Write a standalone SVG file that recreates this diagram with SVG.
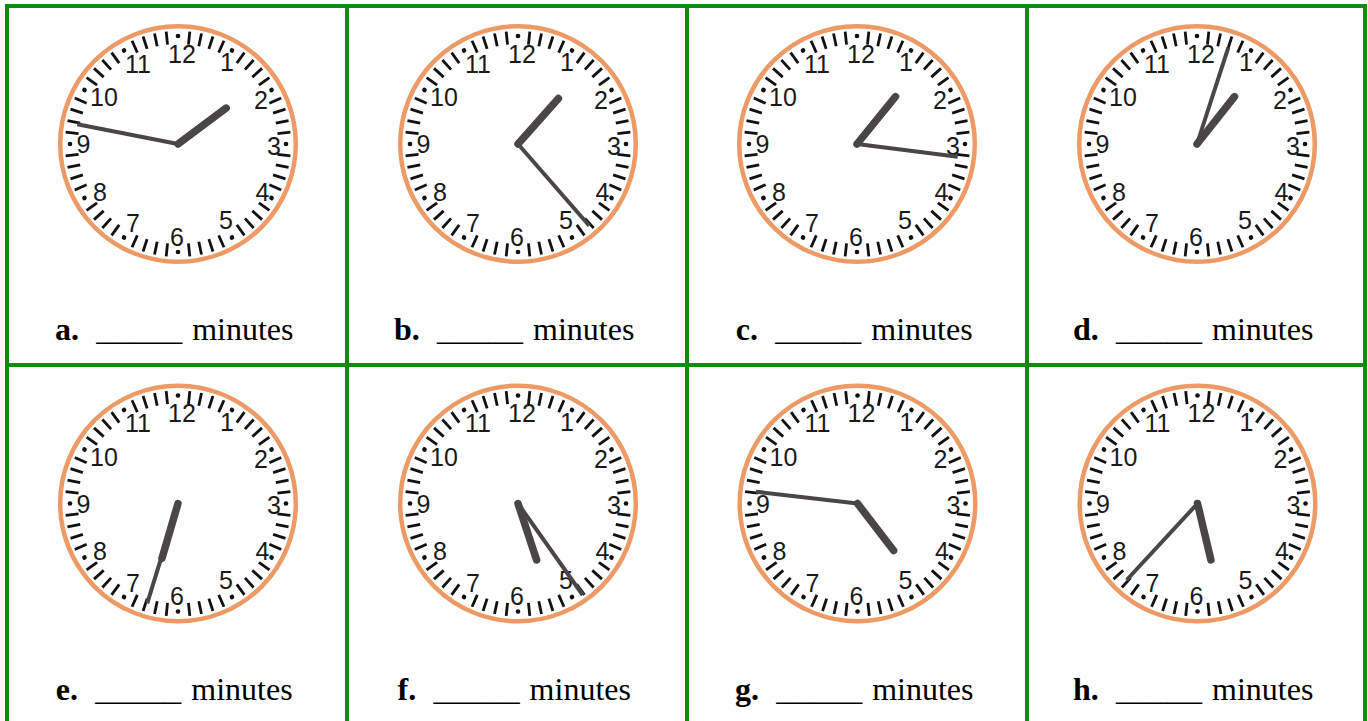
<svg xmlns="http://www.w3.org/2000/svg" xmlns:xlink="http://www.w3.org/1999/xlink" width="1368" height="721" viewBox="0 0 1368 721">
<style>
.num{font-family:"Liberation Sans",Arial,sans-serif;font-size:25px;fill:#1a1a1a;text-anchor:middle}
.lbl{font-family:"Liberation Serif","Times New Roman",serif;font-size:32px;fill:#000}
.b{font-weight:bold}
.tick{stroke:#111;stroke-width:2.8}
.hr{stroke:#4a4646;stroke-width:7.5;stroke-linecap:round}
.mn{stroke:#4a4646;stroke-width:4;stroke-linecap:butt}
.grid{stroke:#128a12;stroke-width:4;fill:none}
</style>
<defs>
<g id="face">
<circle r="117.8" fill="#fff" stroke="#ED9A66" stroke-width="4.5"/>
<g class="tick">
<line y1="-100" y2="-113" transform="rotate(6)"/><line y1="-100" y2="-113" transform="rotate(12)"/><line y1="-100" y2="-113" transform="rotate(18)"/><line y1="-100" y2="-113" transform="rotate(24)"/>
<line y1="-100" y2="-113" transform="rotate(36)"/><line y1="-100" y2="-113" transform="rotate(42)"/><line y1="-100" y2="-113" transform="rotate(48)"/><line y1="-100" y2="-113" transform="rotate(54)"/>
<line y1="-100" y2="-113" transform="rotate(66)"/><line y1="-100" y2="-113" transform="rotate(72)"/><line y1="-100" y2="-113" transform="rotate(78)"/><line y1="-100" y2="-113" transform="rotate(84)"/>
<line y1="-100" y2="-113" transform="rotate(96)"/><line y1="-100" y2="-113" transform="rotate(102)"/><line y1="-100" y2="-113" transform="rotate(108)"/><line y1="-100" y2="-113" transform="rotate(114)"/>
<line y1="-100" y2="-113" transform="rotate(126)"/><line y1="-100" y2="-113" transform="rotate(132)"/><line y1="-100" y2="-113" transform="rotate(138)"/><line y1="-100" y2="-113" transform="rotate(144)"/>
<line y1="-100" y2="-113" transform="rotate(156)"/><line y1="-100" y2="-113" transform="rotate(162)"/><line y1="-100" y2="-113" transform="rotate(168)"/><line y1="-100" y2="-113" transform="rotate(174)"/>
<line y1="-100" y2="-113" transform="rotate(186)"/><line y1="-100" y2="-113" transform="rotate(192)"/><line y1="-100" y2="-113" transform="rotate(198)"/><line y1="-100" y2="-113" transform="rotate(204)"/>
<line y1="-100" y2="-113" transform="rotate(216)"/><line y1="-100" y2="-113" transform="rotate(222)"/><line y1="-100" y2="-113" transform="rotate(228)"/><line y1="-100" y2="-113" transform="rotate(234)"/>
<line y1="-100" y2="-113" transform="rotate(246)"/><line y1="-100" y2="-113" transform="rotate(252)"/><line y1="-100" y2="-113" transform="rotate(258)"/><line y1="-100" y2="-113" transform="rotate(264)"/>
<line y1="-100" y2="-113" transform="rotate(276)"/><line y1="-100" y2="-113" transform="rotate(282)"/><line y1="-100" y2="-113" transform="rotate(288)"/><line y1="-100" y2="-113" transform="rotate(294)"/>
<line y1="-100" y2="-113" transform="rotate(306)"/><line y1="-100" y2="-113" transform="rotate(312)"/><line y1="-100" y2="-113" transform="rotate(318)"/><line y1="-100" y2="-113" transform="rotate(324)"/>
<line y1="-100" y2="-113" transform="rotate(336)"/><line y1="-100" y2="-113" transform="rotate(342)"/><line y1="-100" y2="-113" transform="rotate(348)"/><line y1="-100" y2="-113" transform="rotate(354)"/>
</g>
<g fill="#111">
<circle cy="-108" r="2.3"/><circle cy="-108" r="2.3" transform="rotate(30)"/><circle cy="-108" r="2.3" transform="rotate(60)"/><circle cy="-108" r="2.3" transform="rotate(90)"/>
<circle cy="-108" r="2.3" transform="rotate(120)"/><circle cy="-108" r="2.3" transform="rotate(150)"/><circle cy="-108" r="2.3" transform="rotate(180)"/><circle cy="-108" r="2.3" transform="rotate(210)"/>
<circle cy="-108" r="2.3" transform="rotate(240)"/><circle cy="-108" r="2.3" transform="rotate(270)"/><circle cy="-108" r="2.3" transform="rotate(300)"/><circle cy="-108" r="2.3" transform="rotate(330)"/>
</g>
</g>
</defs>
<rect width="1368" height="721" fill="#fff"/>
<g id="grid">
<rect class="grid" x="7" y="6" width="1358" height="720"/>
<line class="grid" x1="347" y1="6" x2="347" y2="721"/>
<line class="grid" x1="687" y1="6" x2="687" y2="721"/>
<line class="grid" x1="1027" y1="6" x2="1027" y2="721"/>
<line class="grid" x1="7" y1="365" x2="1365" y2="365"/>
</g>
<g id="connectors"/>

<g id="cell-a">
<g transform="translate(178,144)">
<use xlink:href="#face"/>
<g class="num"><text x="4" y="-81.5">12</text><text x="49" y="-73">1</text><text x="83" y="-35.5">2</text><text x="96" y="10.5">3</text><text x="84.5" y="56.5">4</text><text x="48" y="85">5</text><text x="-1" y="101.5">6</text><text x="-45" y="88">7</text><text x="-78" y="56.5">8</text><text x="-94.5" y="9">9</text><text x="-74" y="-38">10</text><text x="-40" y="-71.5">11</text></g>
<line class="mn" x1="0" y1="0" x2="-100.7" y2="-19.7"/>
<line class="hr" x1="0" y1="0" x2="48.2" y2="-35.9"/>
</g>
<text class="lbl" y="340"><tspan class="b" x="54.9">a.</tspan><tspan x="96.2" textLength="86" lengthAdjust="spacingAndGlyphs">_____</tspan><tspan x="192.2">minutes</tspan></text>
</g>

<g id="cell-b">
<g transform="translate(518,144)">
<use xlink:href="#face"/>
<g class="num"><text x="4" y="-81.5">12</text><text x="49" y="-73">1</text><text x="83" y="-35.5">2</text><text x="96" y="10.5">3</text><text x="84.5" y="56.5">4</text><text x="48" y="85">5</text><text x="-1" y="101.5">6</text><text x="-45" y="88">7</text><text x="-78" y="56.5">8</text><text x="-94.5" y="9">9</text><text x="-74" y="-38">10</text><text x="-40" y="-71.5">11</text></g>
<line class="mn" x1="0" y1="0" x2="71.3" y2="81.7"/>
<line class="hr" x1="0" y1="0" x2="40.4" y2="-45.4"/>
</g>
<text class="lbl" y="340"><tspan class="b" x="394">b.</tspan><tspan x="437" textLength="86" lengthAdjust="spacingAndGlyphs">_____</tspan><tspan x="533">minutes</tspan></text>
</g>

<g id="cell-c">
<g transform="translate(857,144)">
<use xlink:href="#face"/>
<g class="num"><text x="4" y="-81.5">12</text><text x="49" y="-73">1</text><text x="83" y="-35.5">2</text><text x="96" y="10.5">3</text><text x="84.5" y="56.5">4</text><text x="48" y="85">5</text><text x="-1" y="101.5">6</text><text x="-45" y="88">7</text><text x="-78" y="56.5">8</text><text x="-94.5" y="9">9</text><text x="-74" y="-38">10</text><text x="-40" y="-71.5">11</text></g>
<line class="mn" x1="0" y1="0" x2="100.7" y2="12.7"/>
<line class="hr" x1="0" y1="0" x2="38.5" y2="-47.3"/>
</g>
<text class="lbl" y="340"><tspan class="b" x="735.8">c.</tspan><tspan x="775.3" textLength="86" lengthAdjust="spacingAndGlyphs">_____</tspan><tspan x="871.3">minutes</tspan></text>
</g>

<g id="cell-d">
<g transform="translate(1197,144)">
<use xlink:href="#face"/>
<g class="num"><text x="4" y="-81.5">12</text><text x="49" y="-73">1</text><text x="83" y="-35.5">2</text><text x="96" y="10.5">3</text><text x="84.5" y="56.5">4</text><text x="48" y="85">5</text><text x="-1" y="101.5">6</text><text x="-45" y="88">7</text><text x="-78" y="56.5">8</text><text x="-94.5" y="9">9</text><text x="-74" y="-38">10</text><text x="-40" y="-71.5">11</text></g>
<line class="mn" x1="0" y1="0" x2="31.3" y2="-96.3"/>
<line class="hr" x1="0" y1="0" x2="37.5" y2="-47.3"/>
</g>
<text class="lbl" y="340"><tspan class="b" x="1073">d.</tspan><tspan x="1116" textLength="86" lengthAdjust="spacingAndGlyphs">_____</tspan><tspan x="1212">minutes</tspan></text>
</g>

<g id="cell-e">
<g transform="translate(178,503.5)">
<use xlink:href="#face"/>
<g class="num"><text x="4" y="-81.5">12</text><text x="49" y="-73">1</text><text x="83" y="-35.5">2</text><text x="96" y="10.5">3</text><text x="84.5" y="56.5">4</text><text x="48" y="85">5</text><text x="-1" y="101.5">6</text><text x="-45" y="88">7</text><text x="-78" y="56.5">8</text><text x="-94.5" y="9">9</text><text x="-74" y="-38">10</text><text x="-40" y="-71.5">11</text></g>
<line class="mn" x1="0" y1="0" x2="-30.8" y2="99.8"/>
<line class="hr" x1="0" y1="0" x2="-16" y2="54.8"/>
</g>
<text class="lbl" y="699.5"><tspan class="b" x="55.8">e.</tspan><tspan x="95.3" textLength="86" lengthAdjust="spacingAndGlyphs">_____</tspan><tspan x="191.3">minutes</tspan></text>
</g>

<g id="cell-f">
<g transform="translate(518,503.5)">
<use xlink:href="#face"/>
<g class="num"><text x="4" y="-81.5">12</text><text x="49" y="-73">1</text><text x="83" y="-35.5">2</text><text x="96" y="10.5">3</text><text x="84.5" y="56.5">4</text><text x="48" y="85">5</text><text x="-1" y="101.5">6</text><text x="-45" y="88">7</text><text x="-78" y="56.5">8</text><text x="-94.5" y="9">9</text><text x="-74" y="-38">10</text><text x="-40" y="-71.5">11</text></g>
<line class="mn" x1="0" y1="0" x2="64.7" y2="91.5"/>
<line class="hr" x1="0" y1="0" x2="18.6" y2="56.5"/>
</g>
<text class="lbl" y="699.5"><tspan class="b" x="397.5">f.</tspan><tspan x="433.6" textLength="86" lengthAdjust="spacingAndGlyphs">_____</tspan><tspan x="529.6">minutes</tspan></text>
</g>

<g id="cell-g">
<g transform="translate(857.5,503.5)">
<use xlink:href="#face"/>
<g class="num"><text x="4" y="-81.5">12</text><text x="49" y="-73">1</text><text x="83" y="-35.5">2</text><text x="96" y="10.5">3</text><text x="84.5" y="56.5">4</text><text x="48" y="85">5</text><text x="-1" y="101.5">6</text><text x="-45" y="88">7</text><text x="-78" y="56.5">8</text><text x="-94.5" y="9">9</text><text x="-74" y="-38">10</text><text x="-40" y="-71.5">11</text></g>
<line class="mn" x1="0" y1="0" x2="-101.5" y2="-11.8"/>
<line class="hr" x1="0" y1="0" x2="36.1" y2="47"/>
</g>
<text class="lbl" y="699.5"><tspan class="b" x="734.9">g.</tspan><tspan x="776.2" textLength="86" lengthAdjust="spacingAndGlyphs">_____</tspan><tspan x="872.2">minutes</tspan></text>
</g>

<g id="cell-h">
<g transform="translate(1197.5,503.5)">
<use xlink:href="#face"/>
<g class="num"><text x="4" y="-81.5">12</text><text x="49" y="-73">1</text><text x="83" y="-35.5">2</text><text x="96" y="10.5">3</text><text x="84.5" y="56.5">4</text><text x="48" y="85">5</text><text x="-1" y="101.5">6</text><text x="-45" y="88">7</text><text x="-78" y="56.5">8</text><text x="-94.5" y="9">9</text><text x="-74" y="-38">10</text><text x="-40" y="-71.5">11</text></g>
<line class="mn" x1="0" y1="0" x2="-70.8" y2="76.5"/>
<line class="hr" x1="0" y1="0" x2="13.4" y2="56.4"/>
</g>
<text class="lbl" y="699.5"><tspan class="b" x="1073">h.</tspan><tspan x="1116" textLength="86" lengthAdjust="spacingAndGlyphs">_____</tspan><tspan x="1212">minutes</tspan></text>
</g>
</svg>
